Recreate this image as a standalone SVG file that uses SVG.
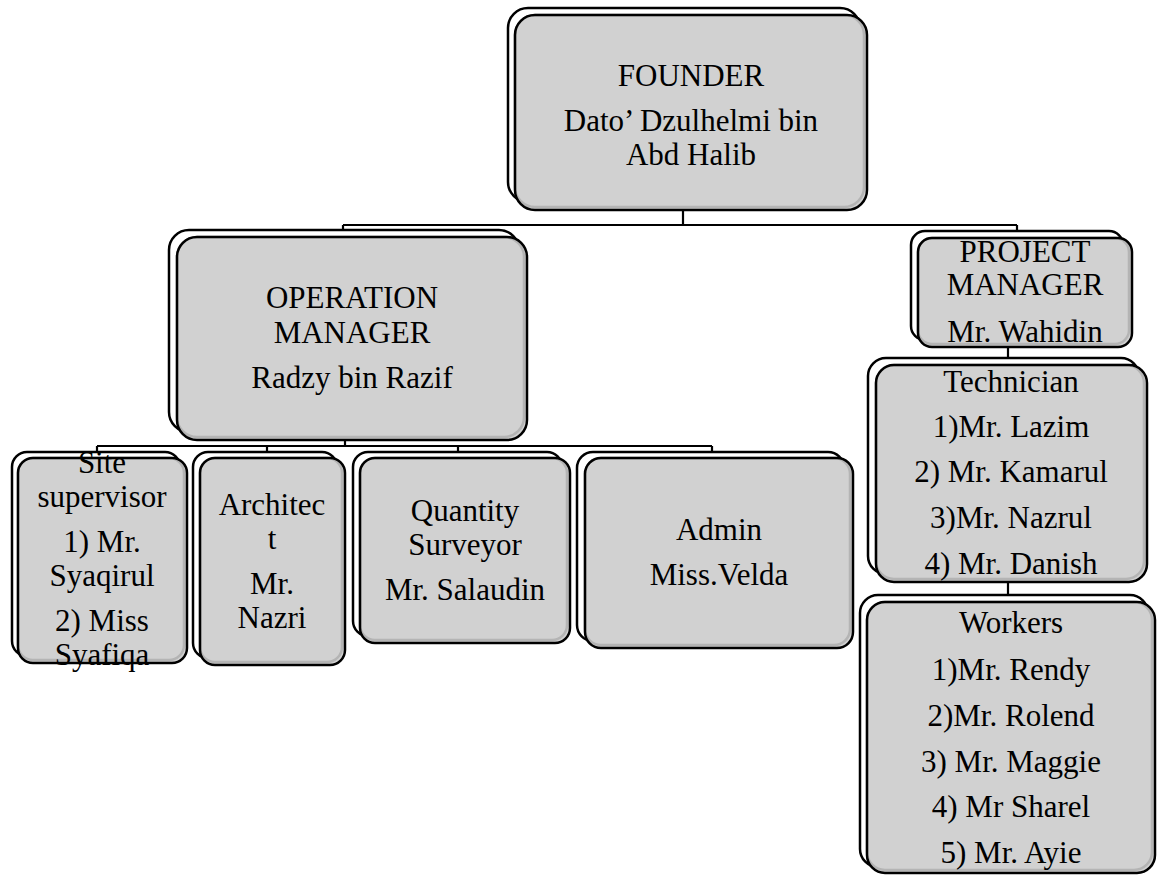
<svg xmlns="http://www.w3.org/2000/svg" width="1157" height="875" viewBox="0 0 1157 875">
<style>
.back{fill:#ffffff;stroke:#000;stroke-width:2.5}
.front{fill:#d1d1d1;stroke:none}
.inner{fill:none;stroke:#b4b4b4;stroke-width:2.5}
.edge{fill:none;stroke:#000;stroke-width:2.5}
.conn{fill:none;stroke:#000;stroke-width:2.2}
.t{font-family:'Liberation Serif','Tinos','DejaVu Serif','Times New Roman',serif;font-size:31px;fill:#000;text-anchor:middle}
</style>
<rect width="1157" height="875" fill="#ffffff"/>
<g id="connectors">
<path class="conn" d="M683 210 V225 M343 225 H1017 M343 225 V230 M1017 225 V231"/>
<path class="conn" d="M345 440 V446 M97 446 H712 M97 446 V452 M267 446 V452 M458 446 V452 M712 446 V452"/>
<path class="conn" d="M1008 347 V358 M1008 582 V595"/>
</g>
<g id="founder">
<rect class="back" x="508" y="8" width="352" height="194" rx="20"/>
<rect class="front" x="515" y="15" width="352" height="195" rx="20"/>
<rect class="inner" x="515" y="15" width="349" height="192" rx="20"/>
<rect class="edge" x="515" y="15" width="352" height="195" rx="20"/>
<text class="t" x="691" y="86">FOUNDER</text>
<text class="t" x="691" y="131">Dato’ Dzulhelmi bin</text>
<text class="t" x="691" y="165">Abd Halib</text>
</g>
<g id="operation-manager">
<rect class="back" x="169" y="230" width="350" height="202" rx="20"/>
<rect class="front" x="177" y="237" width="350" height="203" rx="20"/>
<rect class="inner" x="177" y="237" width="347" height="200" rx="20"/>
<rect class="edge" x="177" y="237" width="350" height="203" rx="20"/>
<text class="t" x="352" y="308">OPERATION</text>
<text class="t" x="352" y="343">MANAGER</text>
<text class="t" x="352" y="388">Radzy bin Razif</text>
</g>
<g id="project-manager">
<rect class="back" x="911" y="231" width="212" height="109" rx="14"/>
<rect class="front" x="918" y="238" width="214" height="109" rx="14"/>
<rect class="inner" x="918" y="238" width="211" height="106" rx="14"/>
<rect class="edge" x="918" y="238" width="214" height="109" rx="14"/>
<text class="t" x="1025" y="262">PROJECT</text>
<text class="t" x="1025" y="295">MANAGER</text>
<text class="t" x="1025" y="342">Mr. Wahidin</text>
</g>
<g id="technician">
<rect class="back" x="868" y="358" width="271" height="216" rx="18"/>
<rect class="front" x="876" y="365" width="271" height="217" rx="18"/>
<rect class="inner" x="876" y="365" width="268" height="214" rx="18"/>
<rect class="edge" x="876" y="365" width="271" height="217" rx="18"/>
<text class="t" x="1011" y="392">Technician</text>
<text class="t" x="1011" y="437">1)Mr. Lazim</text>
<text class="t" x="1011" y="482">2) Mr. Kamarul</text>
<text class="t" x="1011" y="528">3)Mr. Nazrul</text>
<text class="t" x="1011" y="574">4) Mr. Danish</text>
</g>
<g id="workers">
<rect class="back" x="860" y="595" width="288" height="272" rx="18"/>
<rect class="front" x="867" y="602" width="288" height="271" rx="18"/>
<rect class="inner" x="867" y="602" width="285" height="268" rx="18"/>
<rect class="edge" x="867" y="602" width="288" height="271" rx="18"/>
<text class="t" x="1011" y="633">Workers</text>
<text class="t" x="1011" y="680">1)Mr. Rendy</text>
<text class="t" x="1011" y="726">2)Mr. Rolend</text>
<text class="t" x="1011" y="772">3) Mr. Maggie</text>
<text class="t" x="1011" y="817">4) Mr Sharel</text>
<text class="t" x="1011" y="863">5) Mr. Ayie</text>
</g>
<g id="site-supervisor">
<rect class="back" x="12" y="452" width="168" height="204" rx="15"/>
<rect class="front" x="18" y="458" width="169" height="205" rx="15"/>
<rect class="inner" x="18" y="458" width="166" height="202" rx="15"/>
<text class="t" x="102" y="473">Site</text>
<text class="t" x="102" y="507">supervisor</text>
<text class="t" x="102" y="552">1) Mr.</text>
<text class="t" x="102" y="586">Syaqirul</text>
<text class="t" x="102" y="631">2) Miss</text>
<text class="t" x="102" y="665">Syafiqa</text>
<rect class="edge" x="18" y="458" width="169" height="205" rx="15"/>
</g>
<g id="architect">
<rect class="back" x="193" y="452" width="144" height="206" rx="15"/>
<rect class="front" x="200" y="458" width="145" height="207" rx="15"/>
<rect class="inner" x="200" y="458" width="142" height="204" rx="15"/>
<rect class="edge" x="200" y="458" width="145" height="207" rx="15"/>
<text class="t" x="272" y="515">Architec</text>
<text class="t" x="272" y="549">t</text>
<text class="t" x="272" y="594">Mr.</text>
<text class="t" x="272" y="628">Nazri</text>
</g>
<g id="quantity-surveyor">
<rect class="back" x="353" y="452" width="209" height="184" rx="15"/>
<rect class="front" x="360" y="458" width="210" height="185" rx="15"/>
<rect class="inner" x="360" y="458" width="207" height="182" rx="15"/>
<rect class="edge" x="360" y="458" width="210" height="185" rx="15"/>
<text class="t" x="465" y="521">Quantity</text>
<text class="t" x="465" y="555">Surveyor</text>
<text class="t" x="465" y="600">Mr. Salaudin</text>
</g>
<g id="admin">
<rect class="back" x="577" y="452" width="267" height="189" rx="16"/>
<rect class="front" x="585" y="458" width="268" height="190" rx="16"/>
<rect class="inner" x="585" y="458" width="265" height="187" rx="16"/>
<rect class="edge" x="585" y="458" width="268" height="190" rx="16"/>
<text class="t" x="719" y="540">Admin</text>
<text class="t" x="719" y="585">Miss.Velda</text>
</g>
</svg>
